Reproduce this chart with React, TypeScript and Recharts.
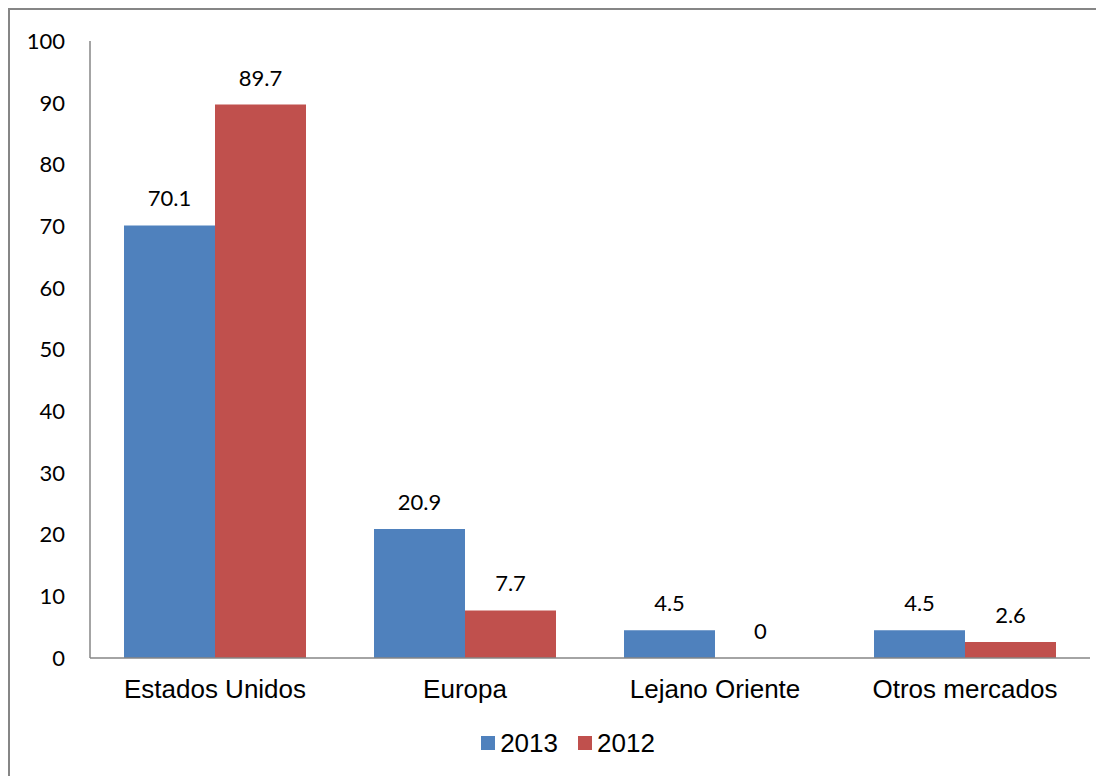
import { Bar, BarChart, LabelList, Legend, XAxis, YAxis } from "recharts";

const categories = ["Estados Unidos", "Europa", "Lejano Oriente", "Otros mercados"];
const values2013 = [70.1, 20.9, 4.5, 4.5];
const values2012 = [89.7, 7.7, 0, 2.6];
const yTicks = [0, 10, 20, 30, 40, 50, 60, 70, 80, 90, 100];

const BLUE = "#4F81BD";
const RED = "#C0504D";
const AXIS = "#868686";

const data = categories.map((name, i) => ({
  name,
  y2013: values2013[i],
  y2012: values2012[i],
}));

const legendItems = [
  { label: "2013", color: BLUE },
  { label: "2012", color: RED },
];

function LegendContent() {
  return (
    <div
      style={{
        display: "flex",
        justifyContent: "center",
        alignItems: "center",
        height: 30,
        paddingLeft: 16,
        fontFamily: "'Liberation Sans', Arial, sans-serif",
        fontSize: 26,
        color: "#000",
      }}
    >
      {legendItems.map((it, i) => (
        <div key={it.label} style={{ display: "flex", alignItems: "center", marginLeft: i ? 20 : 0 }}>
          <span style={{ width: 14, height: 14, background: it.color, marginRight: 5 }} />
          <span>{it.label}</span>
        </div>
      ))}
    </div>
  );
}

// draws the value above each bar, including zero-height ones
function ValueLabel(props: any) {
  const { x, y, width, value } = props;
  if (value === undefined || value === null) return null;
  return (
    <text
      x={Number(x) + Number(width) / 2}
      y={Number(y) - 19}
      textAnchor="middle"
      fill="#000"
      fontFamily="Lato, sans-serif"
      fontSize={22}
    >
      {String(value)}
    </text>
  );
}

// a hair-thin bar for zero values so the "0" label still gets drawn
const keepZero = (v: any) => (Number(v) === 0 ? 0.01 : 0);

export default function App() {
  return (
    <div
      style={{
        width: 1094,
        height: 766,
        borderLeft: `2px solid ${AXIS}`,
        borderTop: `2px solid ${AXIS}`,
        overflow: "hidden",
        background: "#fff",
      }}
    >
      <BarChart
        width={1094}
        height={766}
        data={data}
        margin={{ top: 31, right: 14, bottom: 18, left: 20 }}
        barCategoryGap="13.6%"
        barGap={0}
      >
        <XAxis
          dataKey="name"
          height={70}
          axisLine={{ stroke: AXIS, strokeWidth: 1.5 }}
          tickLine={false}
          tickSize={0}
          tickMargin={22}
          tick={{ fill: "#000", fontFamily: "'Liberation Sans', Arial, sans-serif", fontSize: 26 }}
        />
        <YAxis
          width={60}
          domain={[0, 100]}
          ticks={yTicks}
          interval={0}
          axisLine={{ stroke: AXIS, strokeWidth: 1.5 }}
          tickLine={false}
          tickSize={0}
          tickMargin={25}
          tick={{ fill: "#000", fontFamily: "Lato, sans-serif", fontSize: 22 }}
        />
        <Legend verticalAlign="bottom" height={30} content={<LegendContent />} />
        <Bar dataKey="y2013" name="2013" fill={BLUE} minPointSize={keepZero} isAnimationActive={false}>
          <LabelList dataKey="y2013" content={ValueLabel} />
        </Bar>
        <Bar dataKey="y2012" name="2012" fill={RED} minPointSize={keepZero} isAnimationActive={false}>
          <LabelList dataKey="y2012" content={ValueLabel} />
        </Bar>
      </BarChart>
    </div>
  );
}
